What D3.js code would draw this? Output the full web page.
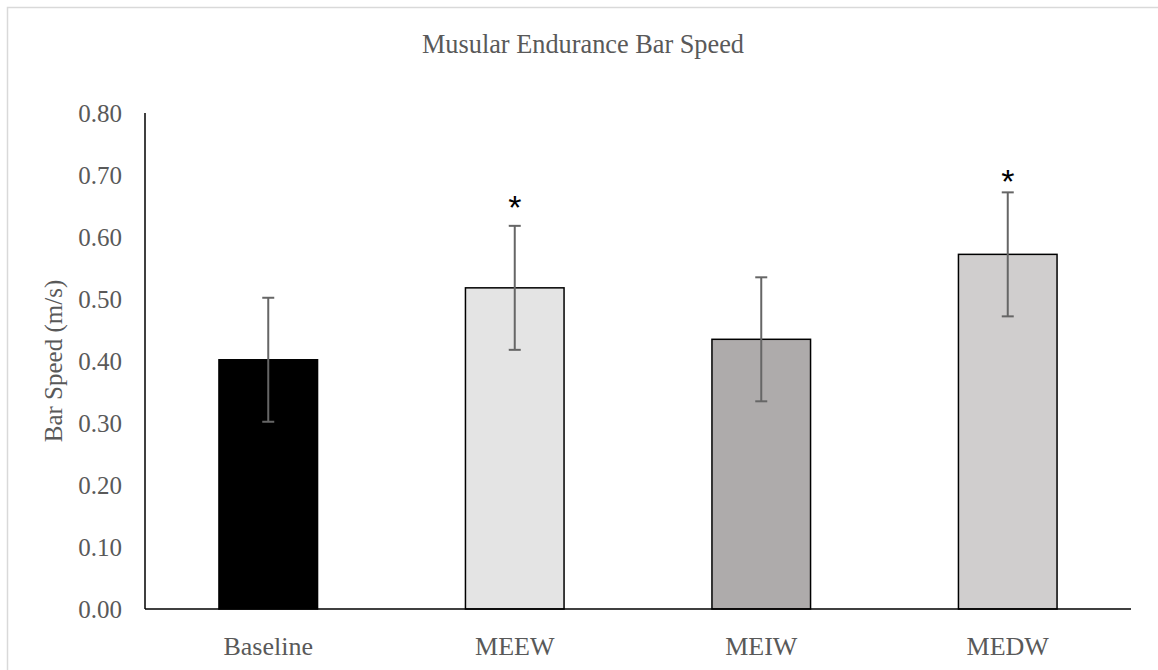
<!DOCTYPE html>
<html>
<head>
<meta charset="utf-8">
<script src="https://cdn.jsdelivr.net/npm/d3@7"></script>
<style>
	body { margin: 0; background: #fff; }
	text { font-family: "Liberation Serif", "Times New Roman", serif; }
</style>
</head>
<body>
<script>

// Chart data
var categories = ["Baseline", "MEEW", "MEIW", "MEDW"];
var barSpeed = [0.402, 0.518, 0.435, 0.572];
var errorAmount = [0.10, 0.10, 0.10, 0.10];
// where the significance stars sit (in m/s), null means no star
var starLevel = [null, 0.661, null, 0.702];
var barColors = ["#000000", "#e4e4e4", "#aeabab", "#d0cece"];
var yTicks = [0, 0.1, 0.2, 0.3, 0.4, 0.5, 0.6, 0.7, 0.8];

const width = 1158;
const height = 670;

var canvas = d3.select('body')
	.append('svg')
	.attr('width', width)
	.attr('height', height)
	.attr('id', 'canvas');

// chart frame
canvas.append('rect')
	.attr('x', 7.5)
	.attr('y', 7.5)
	.attr('width', width + 20)
	.attr('height', height + 20)
	.style('fill', 'none')
	.style('stroke', '#d9d9d9')
	.style('stroke-width', 1.5);

var plot = { left: 145, right: 1131, top: 113, bottom: 609 };

// scales
var xScale = d3.scaleBand()
	.domain(categories)
	.range([plot.left, plot.right])
	.paddingInner(0.6)
	.paddingOuter(0.3);

var yScale = d3.scaleLinear()
	.domain([0, 0.8])
	.range([plot.bottom, plot.top]);

// title
canvas.append('text')
	.attr('x', 583)
	.attr('y', 53)
	.attr('text-anchor', 'middle')
	.style('font-size', '26.3px')
	.style('fill', '#595959')
	.text('Musular Endurance Bar Speed');

// y axis title
canvas.append('text')
	.attr('transform', `translate(62,${(plot.top + plot.bottom) / 2}) rotate(-90)`)
	.attr('text-anchor', 'middle')
	.style('font-size', '25px')
	.style('fill', '#595959')
	.text('Bar Speed (m/s)');

// bars
var barGroup = canvas.append('g').classed('bars', true);
barGroup.selectAll('rect')
	.data(categories)
	.enter()
	.append('rect')
	.attr('x', d => xScale(d))
	.attr('y', (d, i) => yScale(barSpeed[i]))
	.attr('width', xScale.bandwidth())
	.attr('height', (d, i) => yScale(0) - yScale(barSpeed[i]))
	.style('fill', (d, i) => barColors[i])
	.style('stroke', '#000')
	.style('stroke-width', 1.5);

// error bars
var errGroup = canvas.append('g').classed('errors', true);
var errBars = errGroup.selectAll('g')
	.data(categories)
	.enter()
	.append('g')
	.attr('transform', d => `translate(${xScale(d) + xScale.bandwidth() / 2},0)`);

errBars.append('line')
	.attr('y1', (d, i) => yScale(barSpeed[i] + errorAmount[i]))
	.attr('y2', (d, i) => yScale(barSpeed[i] - errorAmount[i]));
errBars.append('line')
	.attr('x1', -6).attr('x2', 6)
	.attr('y1', (d, i) => yScale(barSpeed[i] + errorAmount[i]))
	.attr('y2', (d, i) => yScale(barSpeed[i] + errorAmount[i]));
errBars.append('line')
	.attr('x1', -6).attr('x2', 6)
	.attr('y1', (d, i) => yScale(barSpeed[i] - errorAmount[i]))
	.attr('y2', (d, i) => yScale(barSpeed[i] - errorAmount[i]));
errBars.selectAll('line')
	.style('stroke', '#666666')
	.style('stroke-width', 2);

// significance stars
canvas.append('g').selectAll('text')
	.data(categories.filter((d, i) => starLevel[i] != null))
	.enter()
	.append('text')
	.attr('x', d => xScale(d) + xScale.bandwidth() / 2)
	.attr('y', d => yScale(starLevel[categories.indexOf(d)]))
	.attr('dy', '0.58em')
	.attr('text-anchor', 'middle')
	.style('font-family', '"Liberation Sans", Arial, sans-serif')
	.style('font-size', '34px')
	.style('fill', '#000')
	.text('*');

// y axis
var yAxis = d3.axisLeft(yScale)
	.tickValues(yTicks)
	.tickSize(0)
	.tickPadding(23)
	.tickFormat(d3.format('.2f'));
var yAxisGroup = canvas.append('g')
	.attr('transform', `translate(${plot.left},0)`)
	.call(yAxis);
yAxisGroup.select('.domain')
	.attr('d', `M0,${plot.top}V${plot.bottom}`)
	.style('stroke', '#000')
	.style('stroke-width', 1.5);
yAxisGroup.selectAll('text')
	.style('font-family', '"Liberation Serif", "Times New Roman", serif')
	.style('font-size', '25px')
	.style('fill', '#595959');

// x axis
var xAxis = d3.axisBottom(xScale)
	.tickSize(0)
	.tickPadding(28);
var xAxisGroup = canvas.append('g')
	.attr('transform', `translate(0,${plot.bottom})`)
	.call(xAxis);
xAxisGroup.select('.domain')
	.attr('d', `M${plot.left},0H${plot.right}`)
	.style('stroke', '#000')
	.style('stroke-width', 1.5);
xAxisGroup.selectAll('text')
	.style('font-family', '"Liberation Serif", "Times New Roman", serif')
	.style('font-size', '26px')
	.style('fill', '#595959');

</script>
</body>
</html>
